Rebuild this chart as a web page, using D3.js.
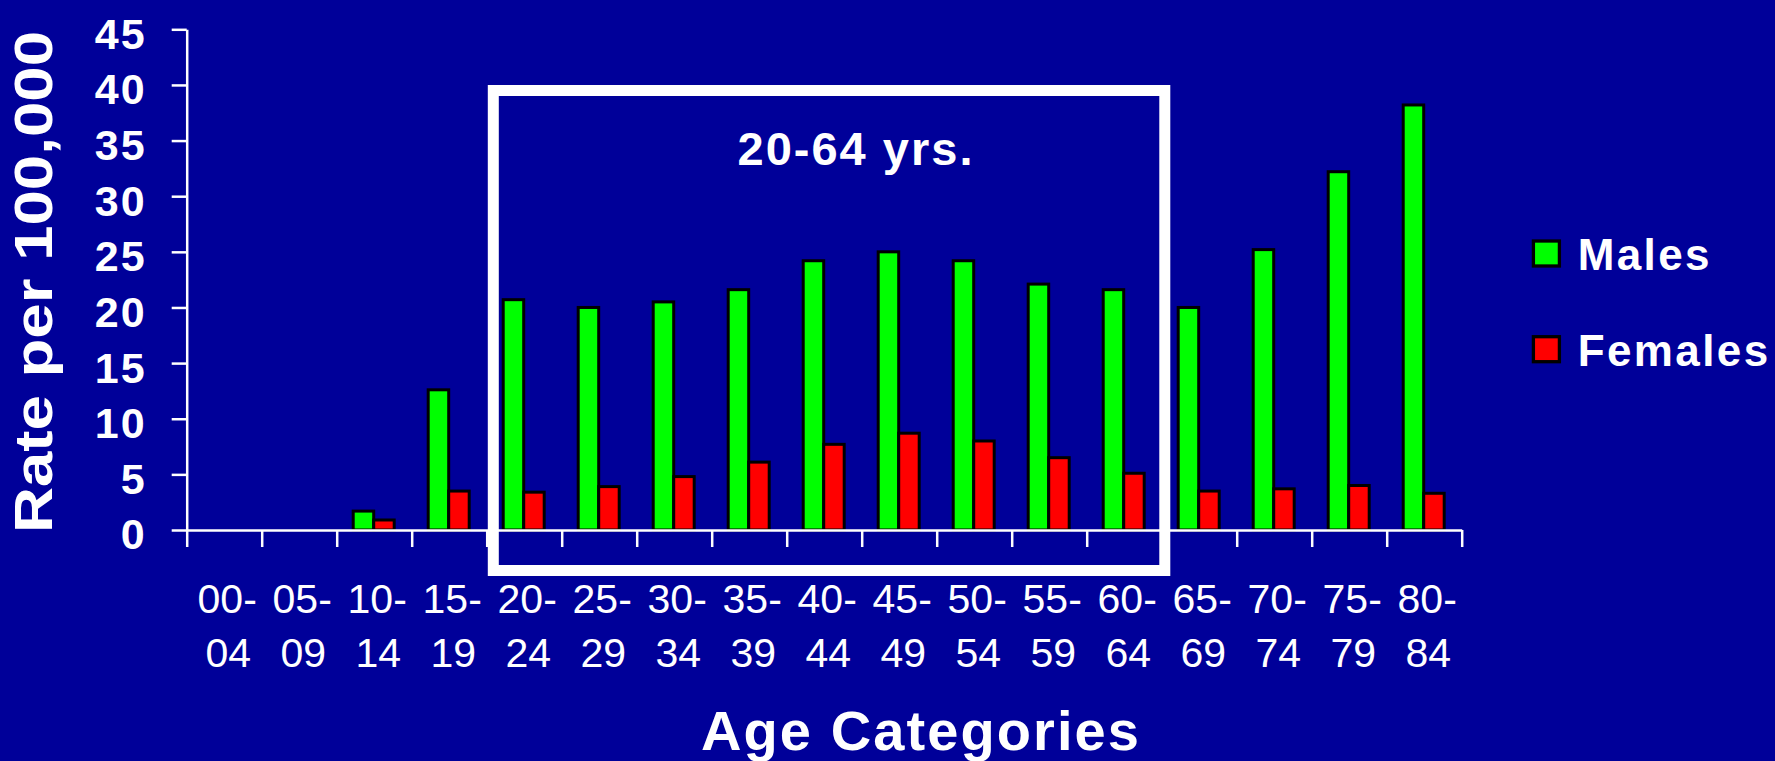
<!DOCTYPE html>
<html>
<head>
<meta charset="utf-8">
<script src="https://cdn.jsdelivr.net/npm/d3@7"></script>
<style>
  html, body { margin: 0; padding: 0; background: #000099; }
  svg { display: block; }
  text { font-family: "Liberation Sans", Arial, sans-serif; fill: #ffffff; }
</style>
</head>
<body>
<script>
// ---- data ----
const categories = ["00-04","05-09","10-14","15-19","20-24","25-29","30-34","35-39","40-44","45-49","50-54","55-59","60-64","65-69","70-74","75-79","80-84"];
const males   = [0, 0, 1.7, 12.6, 20.7, 20.0, 20.5, 21.6, 24.2, 25.0, 24.2, 22.1, 21.6, 20.0, 25.2, 32.2, 38.2];
const females = [0, 0, 0.9, 3.5, 3.4, 3.9, 4.8, 6.1, 7.7, 8.7, 8.0, 6.5, 5.1, 3.5, 3.7, 4.0, 3.3];
const seriesNames = ["Males", "Females"];
const seriesColors = ["#00ff00", "#ff0000"];
const yTicks = [0, 5, 10, 15, 20, 25, 30, 35, 40, 45];
const highlightRange = ["20-24", "60-64"];
const highlightLabel = "20-64 yrs.";
const yTitle = "Rate per 100,000";
const xTitle = "Age Categories";

// ---- layout ----
const W = 1775, H = 761;
const svg = d3.select("body").append("svg").attr("width", W).attr("height", H);
svg.append("rect").attr("width", W).attr("height", H).attr("fill", "#000099");

const x0 = d3.scaleBand().domain(categories).range([186.7, 1461.7]).padding(0);
const x1 = d3.scaleBand().domain(seriesNames).range([16.5, 57.5]).padding(0);
const y = d3.scaleLinear().domain([0, 45]).range([530, 29.3]);

const rows = categories.map((c, i) => ({ cat: c, values: [males[i], females[i]] }));

// bars
const g = svg.append("g");
seriesNames.forEach((s, si) => {
  g.selectAll(".bar-" + si)
    .data(rows.filter(r => r.values[si] > 0))
    .join("rect")
    .attr("x", d => x0(d.cat) + x1(s))
    .attr("width", x1.bandwidth())
    .attr("y", d => y(d.values[si]))
    .attr("height", d => y(0) - y(d.values[si]))
    .attr("fill", seriesColors[si])
    .attr("stroke", "#000")
    .attr("stroke-width", 3);
});

// y axis
const yAxis = d3.axisLeft(y).tickValues(yTicks).tickSize(15).tickSizeOuter(0).tickPadding(25);
const yg = svg.append("g").attr("transform", `translate(${x0.range()[0]},0)`).call(yAxis);
yg.select(".domain").attr("stroke", "#fff").attr("stroke-width", 2.5);
yg.selectAll(".tick line").attr("stroke", "#fff").attr("stroke-width", 2.5);
yg.selectAll(".tick text")
  .attr("dy", "0.44em")
  .style("font-family", '"Liberation Sans", Arial, sans-serif')
  .style("font-weight", "bold")
  .style("font-size", "43px")
  .style("letter-spacing", "2px")
  .attr("fill", "#fff");

// x axis (ticks at category boundaries)
const xb = d3.scaleLinear().domain([0, categories.length]).range(x0.range());
const xAxis = d3.axisBottom(xb).tickValues(d3.range(categories.length + 1)).tickSize(17).tickSizeOuter(0).tickFormat("");
const xg = svg.append("g").attr("transform", `translate(0,${y(0)})`).call(xAxis);
xg.select(".domain").attr("stroke", "#fff").attr("stroke-width", 2.5);
xg.selectAll(".tick line").attr("stroke", "#fff").attr("stroke-width", 2.5);

// x tick labels (two lines)
const lab = svg.append("g");
lab.selectAll("text.l1").data(categories).join("text")
  .attr("class", "l1")
  .attr("x", d => x0(d) + x0.bandwidth() / 2 + 3)
  .attr("y", 613)
  .attr("text-anchor", "middle")
  .style("font-size", "41px")
  .text(d => d.split("-")[0] + "-");
lab.selectAll("text.l2").data(categories).join("text")
  .attr("class", "l2")
  .attr("x", d => x0(d) + x0.bandwidth() / 2 + 4)
  .attr("y", 667)
  .attr("text-anchor", "middle")
  .style("font-size", "41px")
  .text(d => d.split("-")[1]);

// highlight box
const bx0 = x0(highlightRange[0]) + 6.6;
const bx1 = x0(highlightRange[1]) + x0.bandwidth() + 3.1;
const by0 = y(39.5);
const by1 = y(0) + 40.5;
svg.append("rect")
  .attr("x", bx0).attr("y", by0)
  .attr("width", bx1 - bx0).attr("height", by1 - by0)
  .attr("fill", "none").attr("stroke", "#fff").attr("stroke-width", 11);

svg.append("text")
  .attr("x", 856).attr("y", 165)
  .attr("text-anchor", "middle")
  .style("font-weight", "bold").style("font-size", "47px").style("letter-spacing", "2px")
  .text(highlightLabel);

// axis titles
svg.append("text")
  .attr("transform", "translate(52,282) rotate(-90)")
  .attr("text-anchor", "middle")
  .attr("textLength", 502).attr("lengthAdjust", "spacingAndGlyphs")
  .style("font-weight", "bold").style("font-size", "53px")
  .text(yTitle);

svg.append("text")
  .attr("x", 921).attr("y", 750)
  .attr("text-anchor", "middle")
  .style("font-weight", "bold").style("font-size", "56px").style("letter-spacing", "2.1px")
  .text(xTitle);

// legend
const leg = svg.append("g");
seriesNames.forEach((s, i) => {
  const ly = 241 + i * 95.7;
  leg.append("rect")
    .attr("x", 1533.4).attr("y", ly).attr("width", 26).attr("height", 25)
    .attr("fill", seriesColors[i]).attr("stroke", "#000").attr("stroke-width", 3.3);
  leg.append("text")
    .attr("x", 1577.7).attr("y", 270 + i * 95.7)
    .style("font-weight", "bold").style("font-size", "44px").style("letter-spacing", "2.4px")
    .text(s);
});
</script>
</body>
</html>
